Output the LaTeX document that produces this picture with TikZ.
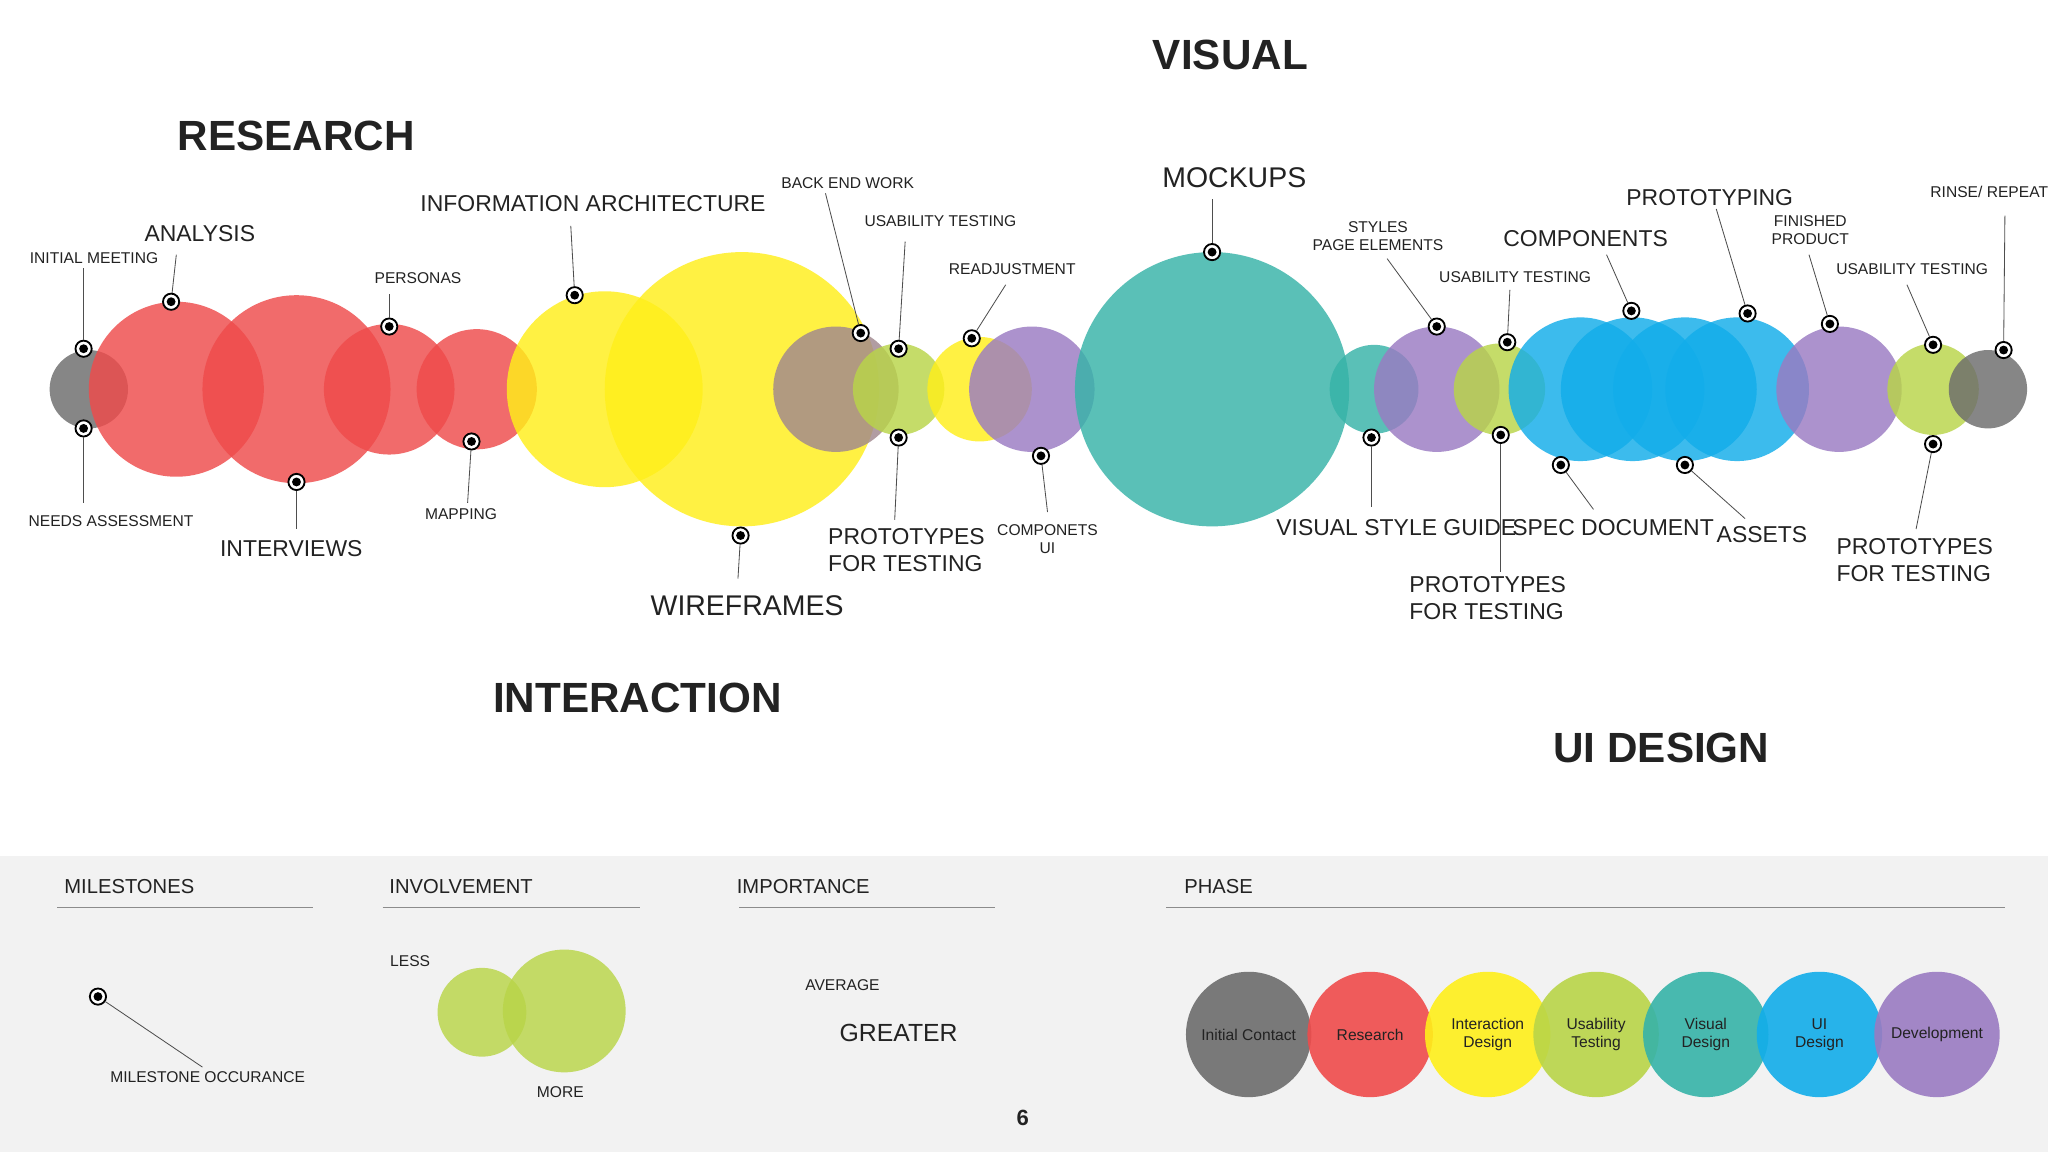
\documentclass[tikz,border=0pt]{standalone}
\usepackage{fontspec}
\setmainfont{Liberation Sans}
\definecolor{cred}{HTML}{EF4B4B}
\definecolor{cyel}{HTML}{FFEF1A}
\definecolor{cgrn}{HTML}{B9D548}
\definecolor{cteal}{HTML}{36B3A8}
\definecolor{cblue}{HTML}{12ADEA}
\definecolor{cpur}{HTML}{9A7BC2}
\definecolor{cgray}{HTML}{6C6C6C}
\definecolor{cmauve}{HTML}{A1888E}
\definecolor{txt}{HTML}{222222}
\begin{document}
\begin{tikzpicture}[x=0.05cm,y=-0.05cm,
  bub/.style={fill=#1,fill opacity=0.82},
  ms/.style={circle,inner sep=0,minimum size=0.62cm,fill=white,draw=black,line width=0.07cm,
     path picture={\fill[black] (path picture bounding box.center) circle (0.17cm);}},
  ln/.style={draw=txt!80,line width=0.9pt},
  sm/.style={text=txt,font=\fontsize{17}{20}\selectfont,align=left},
  md/.style={text=txt,font=\fontsize{25}{29}\selectfont,align=left},
  lg/.style={text=txt,font=\fontsize{31}{35}\selectfont},
  hd/.style={text=txt,font=\fontsize{46}{50}\selectfont\bfseries},
  ph/.style={circle,minimum size=4.8cm,inner sep=0,fill=#1,fill opacity=0.9,text opacity=1,text=txt,align=center,font=\fontsize{17}{20}\selectfont}]
\useasboundingbox (0,0) rectangle (1568,882);
\fill[white] (0,0) rectangle (1568,655);
\fill[black!5] (0,655) rectangle (1568,882);
% bubbles
\foreach \x/\r/\c in {68/30/cgray,135/67/cred,227/72/cred,298/50/cred,365/46/cred,463/75/cyel,568/105/cyel,640/48/cmauve,688/35/cgrn,750/40/cyel,790/48/cpur,928/105/cteal,1052/34/cteal,1100/48/cpur,1148/35/cgrn,1210/55/cblue,1250/55/cblue,1290/55/cblue,1330/55/cblue,1408/48/cpur,1480/35/cgrn,1522/30/cgray}
  \fill[bub=\c] (\x,298) circle (\r);
% headers
\node[hd] (hr) at (227,104) {RESEARCH};
\node[hd] (hv) at (942,42) {VISUAL};
\node[hd] (hi) at (488,534) {INTERACTION};
\node[hd] (hu) at (1272,573) {UI DESIGN};
% milestones: name/pos/end/labelpos/style/text
\newcommand\mst[6]{\node[ms] (m#1) at (#2) {};\coordinate (e#1) at (#3);\draw[ln] (m#1) -- (e#1);\node[#5] (t#1) at (#4) {#6};}
\mst{a}{64,267}{64,205}{72,198}{sm}{INITIAL MEETING}
\mst{b}{64,328}{64,385}{85,399}{sm}{NEEDS ASSESSMENT}
\mst{c}{131,231}{135,195}{153,179}{md}{ANALYSIS}
\mst{d}{227,369}{227,405}{223,420}{md}{INTERVIEWS}
\mst{e}{298,250}{298,225}{320,213}{sm}{PERSONAS}
\mst{f}{361,338}{358,385}{353,394}{sm}{MAPPING}
\mst{g}{440,226}{437,173}{454,156}{md}{INFORMATION ARCHITECTURE}
\mst{h}{567,410}{565,443}{572,464}{lg}{WIREFRAMES}
\mst{i}{659,255}{632,148}{649,140}{sm}{BACK END WORK}
\mst{j}{688,267}{693,185}{720,169}{sm}{USABILITY TESTING}
\mst{k}{688,335}{685,398}{694,421}{md}{PROTOTYPES\\FOR TESTING}
\mst{l}{744,259}{770,218}{775,206}{sm}{READJUSTMENT}
\mst{m}{797,349}{802,392}{802,413}{sm,align=center}{COMPONETS\\UI}
\mst{n}{928,193}{928,152}{945,136}{lg}{MOCKUPS}
\mst{o}{1050,335}{1050,388}{1069,404}{md}{VISUAL STYLE GUIDE}
\mst{p}{1100,250}{1062,198}{1055,181}{sm,align=center}{STYLES\\PAGE ELEMENTS}
\mst{q}{1154,262}{1156,222}{1160,212}{sm}{USABILITY TESTING}
\mst{r}{1149,333}{1149,438}{1139,458}{md}{PROTOTYPES\\FOR TESTING}
\mst{s}{1195,356}{1220,390}{1235,404}{md}{SPEC DOCUMENT}
\mst{t}{1249,238}{1230,195}{1214,183}{md}{COMPONENTS}
\mst{u}{1290,356}{1336,397}{1349,409}{md}{ASSETS}
\mst{v}{1338,240}{1314,160}{1309,151}{md}{PROTOTYPING}
\mst{w}{1401,248}{1385,195}{1386,176}{sm,align=center}{FINISHED\\PRODUCT}
\mst{x}{1480,264}{1460,218}{1464,206}{sm}{USABILITY TESTING}
\mst{y}{1480,340}{1467,405}{1466,429}{md}{PROTOTYPES\\FOR TESTING}
\mst{z}{1534,268}{1535,165}{1523,147}{sm}{RINSE/ REPEAT}
% legend
\node[md,font=\fontsize{22}{26}\selectfont] (l1) at (99,679) {MILESTONES};
\node[md,font=\fontsize{22}{26}\selectfont] (l2) at (353,679) {INVOLVEMENT};
\node[md,font=\fontsize{22}{26}\selectfont] (l3) at (615,679) {IMPORTANCE};
\node[md,font=\fontsize{22}{26}\selectfont] (l4) at (933,679) {PHASE};
\draw[draw=black!45,line width=0.8pt] (44,695) -- (240,695) (293,695) -- (490,695) (566,695) -- (762,695) (893,695) -- (1535,695);
\node[ms] (lm) at (75,763) {};
\coordinate (lme) at (155,817);
\draw[ln] (lm) -- (lme);
\node[sm] (lmt) at (159,825) {MILESTONE OCCURANCE};
\fill[bub=cgrn] (369,775) circle (34);
\fill[bub=cgrn] (432,774) circle (47);
\node[sm] (less) at (314,736) {LESS};
\node[sm] (more) at (429,836) {MORE};
\node[sm] (avg) at (645,754) {AVERAGE};
\node[md,font=\fontsize{27}{31}\selectfont] (gr) at (688,791) {GREATER};
\node[ph=cgray] (p1) at (956,792) {Initial Contact};
\node[ph=cred] (p2) at (1049,792) {Research};
\node[ph=cyel] (p3) at (1139,792) {Interaction\\Design};
\node[ph=cgrn] (p4) at (1222,792) {Usability\\Testing};
\node[ph=cteal] (p5) at (1306,792) {Visual\\Design};
\node[ph=cblue] (p6) at (1393,792) {UI\\Design};
\node[ph=cpur] (p7) at (1483,792) {Development};
\node[md,font=\fontsize{24}{28}\selectfont\bfseries] (pg) at (783,856) {6};
\end{tikzpicture}
\end{document}
